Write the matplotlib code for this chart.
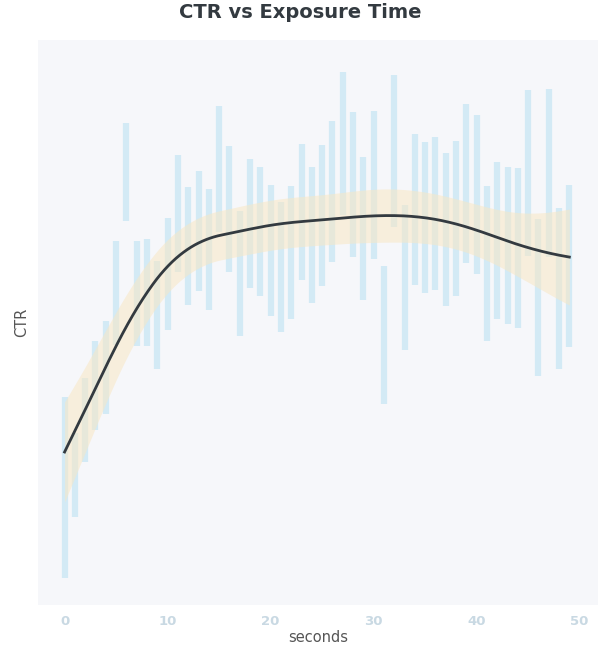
import matplotlib
matplotlib.use("Agg")
import matplotlib.pyplot as plt
import numpy as np

seconds = list(range(50))
bar_top_px = [397,433,378,341,321,241,123,241,239,261,218,155,187,171,189,106,146,211,159,167,
              185,202,186,144,167,145,121,72,112,157,111,266,75,205,134,142,137,153,141,104,
              115,186,162,167,168,90,219,89,208,185]
bar_bot_px = [578,517,462,430,414,345,221,346,346,369,330,272,305,291,310,232,272,336,288,296,
              316,332,319,280,303,286,262,215,257,300,259,404,227,350,285,293,290,306,296,263,
              274,341,319,324,328,256,376,257,369,347]

fit_x = [0,2,4,6,8,10,12,14,16,18,20,22,24,26,28,30,32,34,36,38,40,42,44,46,48,49]
fit_px = [452,412,366,321,289,264,242,237,234,229,224,222,221,219,217,215,215,216,218,223,230,237,245,252,255,257]
band_hw_px = [50,42,36,31,28,27,25,24,25,25,25,25,25,25,26,27,27,26,25,25,25,27,31,37,44,48]

def to_ctr(px):
    return (600 - np.asarray(px, dtype=float)) / 100.0

top = to_ctr(bar_top_px)
bot = to_ctr(bar_bot_px)
fit = to_ctr(fit_px)
hw = np.asarray(band_hw_px) / 100.0

# visual smoothing of the drawn curve
xs = np.linspace(0, 49, 400)
def smooth(v):
    d = np.interp(xs, fit_x, v)
    k = 25
    pad = np.concatenate([np.full(k, d[0]) * 0 + (2 * d[0] - d[k:0:-1]), d, 2 * d[-1] - d[-2:-k - 2:-1]])
    w = np.ones(2 * k + 1) / (2 * k + 1)
    return np.convolve(pad, w, mode="valid")
fs = smooth(fit)
ls = smooth(fit - hw)
us = smooth(fit + hw)

fig = plt.figure(figsize=(6, 6.47), dpi=100)
ax = fig.add_axes([0.063, 0.065, 0.934, 0.873])
ax.set_facecolor("#f6f7fa")
for s in ax.spines.values():
    s.set_visible(False)

ax.vlines(seconds, bot, top, color="#d3eaf5", linewidth=4.5, zorder=1)
ax.fill_between(xs, ls, us, color="#f8e7c4", alpha=0.55, linewidth=0, zorder=2)
ax.plot(xs, fs, color="#333a40", linewidth=2, zorder=3)

ax.set_xlim(-2.6, 51.8)
ax.set_ylim(-0.05, 5.6)
ax.set_xticks([0, 10, 20, 30, 40, 50])
ax.set_yticks([])
ax.tick_params(axis="x", length=0, colors="#c9d9e3", labelsize=9.5, pad=7)
for lab in ax.get_xticklabels():
    lab.set_fontweight("bold")
ax.set_xlabel("seconds", color="#555555", fontsize=10.5, labelpad=2)
ax.set_ylabel("CTR", color="#555555", fontsize=10.5, labelpad=6)
fig.suptitle("CTR vs Exposure Time", fontsize=14, fontweight="bold", color="#333a40", y=0.995)

fig.savefig("out.png", dpi=100, facecolor="white")
